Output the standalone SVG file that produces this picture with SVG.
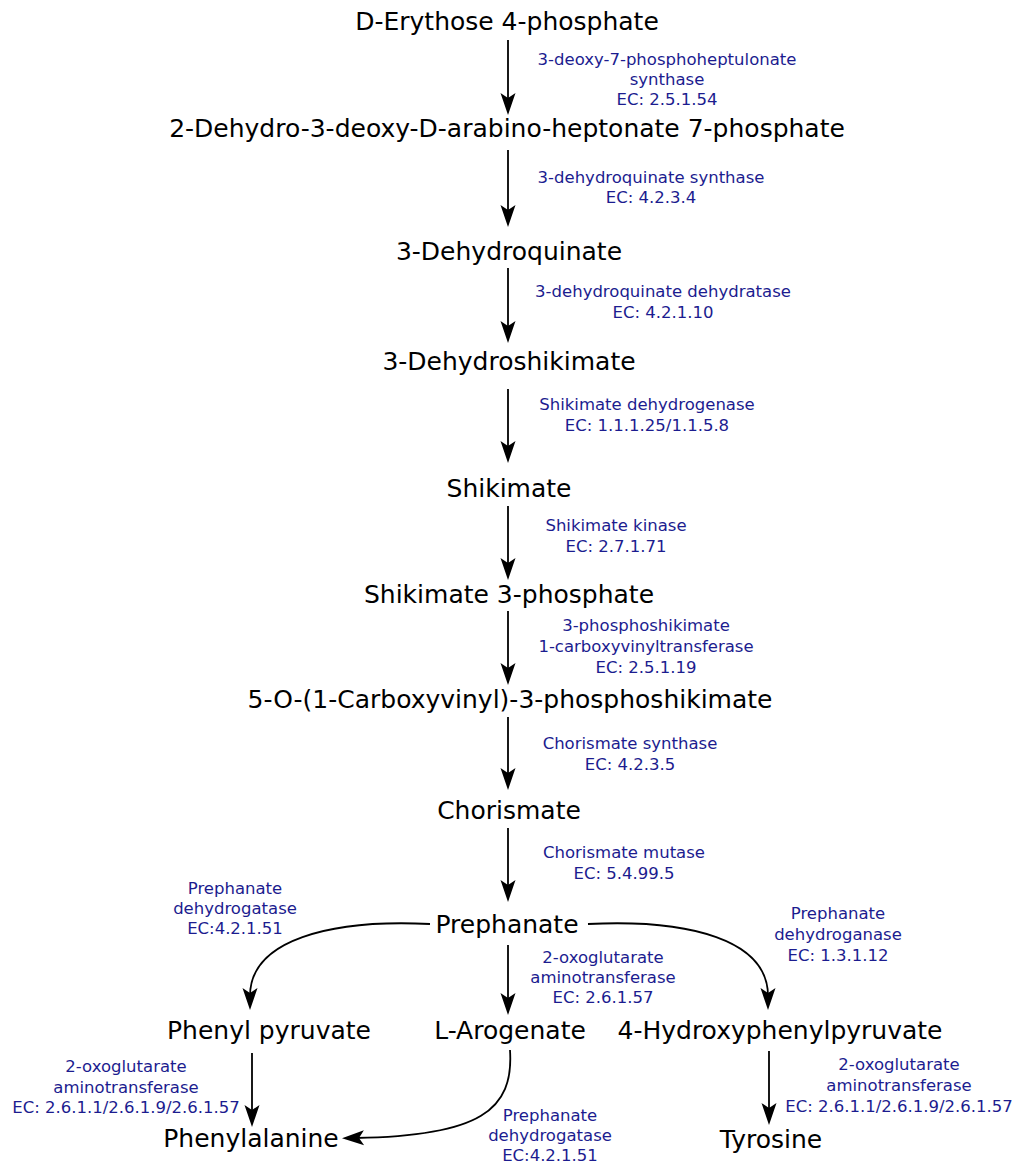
<svg xmlns="http://www.w3.org/2000/svg" width="1018" height="1166" viewBox="0 0 1018 1166">
<style>
.n{font-family:"DejaVu Sans",sans-serif;font-size:25px;fill:#000;text-anchor:middle}
.e{font-family:"DejaVu Sans",sans-serif;font-size:16.5px;fill:#1c1c8f;text-anchor:middle}
.c{fill:none;stroke:#000;stroke-width:1.8}
</style>
<defs>
<marker id="ah" markerUnits="userSpaceOnUse" orient="auto" refX="0" refY="0" markerWidth="30" markerHeight="20" overflow="visible">
<path d="M14 0 L-8 -7.5 L-3 0 L-8 7.5 Z" fill="#000"/>
</marker>
</defs>
<rect width="1018" height="1166" fill="#fff"/>
<g id="connectors">
<path class="c" d="M508 40 V101" marker-end="url(#ah)"/>
<path class="c" d="M508 150 V213" marker-end="url(#ah)"/>
<path class="c" d="M508 268 V329" marker-end="url(#ah)"/>
<path class="c" d="M508 389 V449" marker-end="url(#ah)"/>
<path class="c" d="M508 506 V566" marker-end="url(#ah)"/>
<path class="c" d="M508 611 V671" marker-end="url(#ah)"/>
<path class="c" d="M508 717 V776" marker-end="url(#ah)"/>
<path class="c" d="M508 828 V888" marker-end="url(#ah)"/>
<path class="c" d="M508 945 V1001" marker-end="url(#ah)"/>
<path class="c" d="M430 924 C330 919 250 940 250 996" marker-end="url(#ah)"/>
<path class="c" d="M588 924 C690 919 768 940 768 996" marker-end="url(#ah)"/>
<path class="c" d="M510 1050 C514 1110 480 1136 356 1138" marker-end="url(#ah)"/>
<path class="c" d="M252 1053 V1113" marker-end="url(#ah)"/>
<path class="c" d="M769 1051 V1111" marker-end="url(#ah)"/>
</g>
<g id="n-e4p"><text class="n" x="507" y="30">D-Erythose 4-phosphate</text></g>
<g id="n-dahp"><text class="n" x="507" y="137">2-Dehydro-3-deoxy-D-arabino-heptonate 7-phosphate</text></g>
<g id="n-dhq"><text class="n" x="509" y="260">3-Dehydroquinate</text></g>
<g id="n-dhs"><text class="n" x="509" y="370">3-Dehydroshikimate</text></g>
<g id="n-shik"><text class="n" x="509" y="497">Shikimate</text></g>
<g id="n-s3p"><text class="n" x="509" y="603">Shikimate 3-phosphate</text></g>
<g id="n-epsp"><text class="n" x="510" y="708">5-O-(1-Carboxyvinyl)-3-phosphoshikimate</text></g>
<g id="n-chor"><text class="n" x="509" y="819">Chorismate</text></g>
<g id="n-preph"><text class="n" x="507" y="933">Prephanate</text></g>
<g id="n-phpyr"><text class="n" x="269" y="1039">Phenyl pyruvate</text></g>
<g id="n-arog"><text class="n" x="510" y="1039">L-Arogenate</text></g>
<g id="n-hpp"><text class="n" x="780" y="1039">4-Hydroxyphenylpyruvate</text></g>
<g id="n-phe"><text class="n" x="251" y="1147">Phenylalanine</text></g>
<g id="n-tyr"><text class="n" x="771" y="1148">Tyrosine</text></g>
<g id="labels">
<text class="e" x="667" y="65">3-deoxy-7-phosphoheptulonate</text>
<text class="e" x="667" y="85">synthase</text>
<text class="e" x="667" y="105">EC: 2.5.1.54</text>
<text class="e" x="651" y="183">3-dehydroquinate synthase</text>
<text class="e" x="651" y="203">EC: 4.2.3.4</text>
<text class="e" x="663" y="297">3-dehydroquinate dehydratase</text>
<text class="e" x="663" y="318">EC: 4.2.1.10</text>
<text class="e" x="647" y="410">Shikimate dehydrogenase</text>
<text class="e" x="647" y="431">EC: 1.1.1.25/1.1.5.8</text>
<text class="e" x="616" y="531">Shikimate kinase</text>
<text class="e" x="616" y="552">EC: 2.7.1.71</text>
<text class="e" x="646" y="631">3-phosphoshikimate</text>
<text class="e" x="646" y="652">1-carboxyvinyltransferase</text>
<text class="e" x="646" y="673">EC: 2.5.1.19</text>
<text class="e" x="630" y="749">Chorismate synthase</text>
<text class="e" x="630" y="770">EC: 4.2.3.5</text>
<text class="e" x="624" y="858">Chorismate mutase</text>
<text class="e" x="624" y="879">EC: 5.4.99.5</text>
<text class="e" x="235" y="894">Prephanate</text>
<text class="e" x="235" y="914">dehydrogatase</text>
<text class="e" x="235" y="934">EC:4.2.1.51</text>
<text class="e" x="838" y="919">Prephanate</text>
<text class="e" x="838" y="940">dehydroganase</text>
<text class="e" x="838" y="961">EC: 1.3.1.12</text>
<text class="e" x="603" y="963">2-oxoglutarate</text>
<text class="e" x="603" y="983">aminotransferase</text>
<text class="e" x="603" y="1003">EC: 2.6.1.57</text>
<text class="e" x="126" y="1072">2-oxoglutarate</text>
<text class="e" x="126" y="1093">aminotransferase</text>
<text class="e" x="126" y="1113">EC: 2.6.1.1/2.6.1.9/2.6.1.57</text>
<text class="e" x="899" y="1070">2-oxoglutarate</text>
<text class="e" x="899" y="1091">aminotransferase</text>
<text class="e" x="899" y="1112">EC: 2.6.1.1/2.6.1.9/2.6.1.57</text>
<text class="e" x="550" y="1121">Prephanate</text>
<text class="e" x="550" y="1141">dehydrogatase</text>
<text class="e" x="550" y="1161">EC:4.2.1.51</text>
</g>
</svg>
